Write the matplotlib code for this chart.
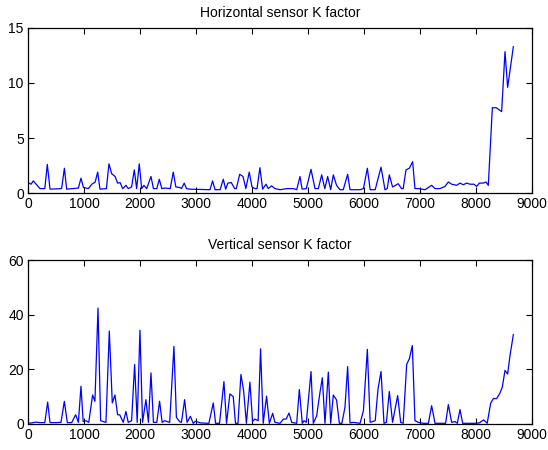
import matplotlib
matplotlib.use("Agg")
import matplotlib.pyplot as plt

plt.rcParams['font.family'] = ['Liberation Sans', 'DejaVu Sans']

title_top = "Horizontal sensor K factor"
title_bottom = "Vertical sensor K factor"
xticks = [0, 1000, 2000, 3000, 4000, 5000, 6000, 7000, 8000, 9000]
yticks_top = [0, 5, 10, 15]
yticks_bottom = [0, 20, 40, 60]

h_x = [0, 54, 95, 214, 300, 345, 393, 600, 650, 690,
       900, 946, 990, 1080, 1140, 1200, 1244, 1285, 1400, 1446,
       1495, 1555, 1600, 1645, 1690, 1750, 1790, 1850, 1898, 1940,
       1987, 2030, 2070, 2120, 2196, 2240, 2300, 2344, 2390, 2450,
       2540, 2594, 2640, 2710, 2740, 2790, 2830, 2890, 3250, 3296,
       3340, 3430, 3487, 3530, 3570, 3630, 3690, 3720, 3780, 3840,
       3890, 3951, 4000, 4050, 4090, 4141, 4190, 4250, 4290, 4350,
       4410, 4500, 4619, 4740, 4798, 4857, 4895, 4970, 5054, 5125,
       5185, 5244, 5300, 5351, 5405, 5452, 5510, 5570, 5630, 5708,
       5750, 5840, 5930, 5990, 6060, 6110, 6200, 6304, 6375, 6415,
       6452, 6510, 6580, 6610, 6670, 6700, 6750, 6810, 6869, 6910,
       6970, 7030, 7090, 7208, 7268, 7357, 7446, 7506, 7565, 7655,
       7714, 7774, 7833, 7893, 7964, 8012, 8059, 8130, 8178, 8220,
       8292, 8363, 8458, 8518, 8565, 8667]
h_y = [0.95, 0.8, 1.1, 0.4, 0.4, 2.6, 0.35, 0.4, 2.25, 0.35,
       0.45, 1.35, 0.5, 0.4, 0.8, 1.0, 1.9, 0.35, 0.4, 2.65,
       1.75, 1.5, 0.9, 0.95, 0.4, 0.7, 0.4, 0.55, 2.1, 0.4,
       2.65, 0.4, 0.7, 0.4, 1.5, 0.4, 0.4, 1.25, 0.4, 0.45,
       0.4, 1.9, 0.55, 0.5, 0.4, 0.9, 0.4, 0.35, 0.3, 1.1,
       0.3, 0.3, 1.25, 0.35, 0.9, 0.95, 0.4, 0.4, 1.7, 1.5,
       0.4, 1.9, 0.55, 0.4, 0.4, 2.3, 0.35, 0.8, 0.4, 0.65,
       0.4, 0.3, 0.4, 0.4, 0.3, 1.5, 0.35, 0.4, 2.15, 0.4,
       0.4, 1.65, 0.4, 1.5, 0.3, 1.65, 0.7, 0.3, 0.3, 1.7,
       0.3, 0.3, 0.3, 0.4, 2.25, 0.3, 0.3, 2.35, 0.3, 0.4,
       1.65, 0.55, 0.75, 0.85, 0.4, 0.4, 2.1, 2.25, 2.85, 0.4,
       0.4, 0.35, 0.3, 0.7, 0.4, 0.4, 0.6, 1.0, 0.8, 0.7,
       0.9, 0.75, 0.9, 0.8, 0.8, 0.6, 0.9, 0.9, 1.0, 0.7,
       7.75, 7.75, 7.4, 12.85, 9.6, 13.3]

v_x = [0, 65, 143, 214, 300, 351, 393, 500, 589, 649,
       702, 780, 851, 900, 946, 985, 1035, 1085, 1154, 1195,
       1250, 1297, 1345, 1392, 1452, 1505, 1553, 1600, 1640, 1700,
       1749, 1790, 1850, 1904, 1950, 1999, 2045, 2106, 2150, 2196,
       2240, 2300, 2350, 2395, 2440, 2530, 2606, 2650, 2710, 2740,
       2797, 2840, 2900, 2950, 2990, 3080, 3230, 3308, 3350, 3420,
       3499, 3545, 3605, 3665, 3705, 3750, 3802, 3850, 3900, 3963,
       4010, 4050, 4110, 4153, 4200, 4260, 4310, 4369, 4410, 4500,
       4560, 4609, 4661, 4709, 4798, 4845, 4898, 4930, 4970, 5054,
       5095, 5155, 5214, 5256, 5303, 5363, 5405, 5452, 5510, 5560,
       5605, 5660, 5708, 5750, 5810, 5930, 5990, 6060, 6110, 6200,
       6250, 6304, 6357, 6400, 6452, 6510, 6601, 6655, 6700, 6762,
       6810, 6863, 6910, 6970, 7060, 7150, 7208, 7268, 7357, 7457,
       7506, 7565, 7625, 7667, 7714, 7762, 7893, 7982, 8060, 8137,
       8200, 8262, 8310, 8369, 8428, 8470, 8518, 8565, 8607, 8667]
v_y = [0.25, 0.4, 0.7, 0.5, 0.5, 8.0, 0.5, 0.5, 0.6, 8.3,
       0.5, 0.5, 3.4, 0.6, 13.8, 0.9, 1.2, 0.6, 10.6, 8.3,
       42.4, 1.2, 0.9, 0.6, 34.0, 7.7, 10.6, 3.4, 3.3, 0.6,
       4.6, 0.6, 1.2, 21.8, 0.6, 34.3, 0.6, 8.9, 0.6, 18.7,
       0.6, 0.6, 8.3, 0.6, 1.2, 0.6, 28.4, 2.4, 0.8, 0.6,
       8.9, 0.6, 2.8, 0.25, 1.0, 0.4, 0.25, 7.7, 0.25, 0.25,
       15.5, 0.25, 11.0, 10.0, 0.25, 0.25, 18.1, 12.2, 0.25, 15.3,
       0.9, 1.8, 1.2, 27.5, 0.25, 10.2, 0.25, 3.9, 0.6, 0.25,
       1.8, 1.8, 4.0, 0.6, 0.25, 12.6, 0.25, 1.2, 0.6, 19.2,
       0.25, 3.0, 11.6, 16.9, 0.25, 19.0, 0.25, 10.6, 8.8, 0.25,
       0.25, 6.1, 21.0, 0.4, 0.6, 0.25, 4.9, 27.3, 0.6, 1.2,
       12.8, 19.2, 0.25, 0.6, 11.9, 0.6, 10.4, 0.6, 0.25, 21.8,
       23.9, 28.7, 1.2, 0.6, 0.25, 0.25, 6.7, 0.25, 0.25, 0.25,
       7.1, 0.6, 0.9, 0.25, 5.3, 0.25, 0.25, 0.25, 0.4, 1.5,
       0.25, 7.6, 9.3, 9.3, 11.3, 13.5, 19.6, 18.3, 25.0, 32.7]

fig = plt.figure(figsize=(5.48, 4.5), dpi=100)
ax1 = fig.add_axes([0.0511, 0.5711, 0.9197, 0.3667])
ax2 = fig.add_axes([0.0511, 0.0578, 0.9197, 0.3644])

for ax, xs, ys, yt, title in [(ax1, h_x, h_y, yticks_top, title_top),
                               (ax2, v_x, v_y, yticks_bottom, title_bottom)]:
    ax.plot(xs, ys, color=(0, 0, 1), linewidth=0.9)
    ax.set_xlim(0, 9000)
    ax.set_ylim(yt[0], yt[-1])
    ax.set_xticks(xticks)
    ax.set_yticks(yt)
    ax.tick_params(direction='in', top=True, right=True, length=4, width=0.8,
                   labelsize=10, pad=3)
    for s in ax.spines.values():
        s.set_linewidth(0.9)
    ax.set_title(title, fontsize=10, pad=8)

fig.savefig("out.png", dpi=100)
